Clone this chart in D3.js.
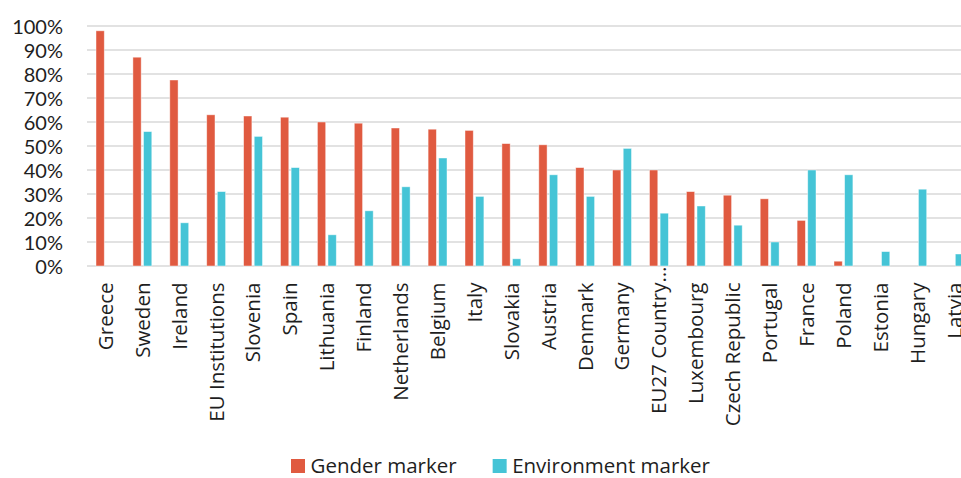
<!DOCTYPE html>
<html>
<head>
<meta charset="utf-8">
<script src="https://cdn.jsdelivr.net/npm/d3@7"></script>
<style>
  html, body { margin: 0; padding: 0; background: #fff; }
  svg { display: block; }
  text { fill: #1e1e1e; }
</style>
</head>
<body>
<svg id="chart" width="961" height="478"></svg>
<script>
// Share of funding carrying each policy marker, by donor
const categories = [
  "Greece", "Sweden", "Ireland", "EU Institutions", "Slovenia", "Spain",
  "Lithuania", "Finland", "Netherlands", "Belgium", "Italy", "Slovakia",
  "Austria", "Denmark", "Germany", "EU27 Country…", "Luxembourg",
  "Czech Republic", "Portugal", "France", "Poland", "Estonia", "Hungary", "Latvia"
];
const genderMarker = [
  98, 87, 77.5, 63, 62.5, 62, 60, 59.5, 57.5, 57, 56.5, 51,
  50.5, 41, 40, 40, 31, 29.5, 28, 19, 2, 0, 0, 0
];
const environmentMarker = [
  0, 56, 18, 31, 54, 41, 13, 23, 33, 45, 29, 3,
  38, 29, 49, 22, 25, 17, 10, 40, 38, 6, 32, 5
];
const seriesNames = ["Gender marker", "Environment marker"];
const seriesColors = ["#e05a40", "#45c4d6"];
const yTicks = [0, 10, 20, 30, 40, 50, 60, 70, 80, 90, 100];

const LABEL_FONT = "'Open Sans', sans-serif";
const LABEL_SIZE = 20.5;
const rows = categories.map((c, i) => ({
  category: c,
  values: [genderMarker[i], environmentMarker[i]]
}));

const svg = d3.select("#chart");
const plotLeft = 87, plotRight = 972.6, plotTop = 26, plotBottom = 266;

const x0 = d3.scaleBand()
  .domain(categories)
  .range([plotLeft, plotRight])
  .paddingInner(0.488)
  .paddingOuter(0.244);

const x1 = d3.scaleBand()
  .domain(d3.range(seriesNames.length))
  .range([0, x0.bandwidth()])
  .paddingInner(0.22);

const y = d3.scaleLinear().domain([0, 100]).range([plotBottom, plotTop]);

// Horizontal gridlines
svg.append("g")
  .selectAll("line")
  .data(yTicks)
  .join("line")
  .attr("x1", plotLeft)
  .attr("x2", 961)
  .attr("y1", d => y(d))
  .attr("y2", d => y(d))
  .attr("stroke", "#d9d9d9")
  .attr("stroke-width", 1.6);

// Y axis labels (compact face keeps the stacked labels clear of each other)
const yAxis = d3.axisLeft(y)
  .tickValues(yTicks)
  .tickFormat(d => d + "%")
  .tickSize(0)
  .tickPadding(0);
const yg = svg.append("g")
  .attr("transform", `translate(63,0)`)
  .call(yAxis);
yg.select(".domain").remove();
yg.selectAll("text")
  .style("font-family", "Lato, 'Open Sans', sans-serif")
  .style("font-size", "20px")
  .attr("fill", "#1e1e1e")
  .attr("dy", "0.36em");

// Bars
const groups = svg.append("g")
  .selectAll("g")
  .data(rows)
  .join("g")
  .attr("transform", d => `translate(${x0(d.category)},0)`);

groups.selectAll("rect")
  .data(d => d.values.map((v, k) => ({ v, k })).filter(e => e.v > 0))
  .join("rect")
  .attr("x", e => x1(e.k))
  .attr("width", x1.bandwidth())
  .attr("y", e => y(e.v))
  .attr("height", e => y(0) - y(e.v))
  .attr("fill", e => seriesColors[e.k])
  .attr("stroke", "rgba(255,255,255,0.55)")
  .attr("stroke-width", 0.8);

// Rotated category labels
const xAxis = d3.axisBottom(x0).tickSize(0).tickPadding(0);
const xg = svg.append("g")
  .attr("transform", `translate(0,${plotBottom})`)
  .call(xAxis);
xg.select(".domain").remove();
xg.selectAll(".tick text").remove();
xg.selectAll(".tick").each(function(d) {
  const tick = d3.select(this);
  const truncated = d.endsWith("…");
  const main = truncated ? d.slice(0, -1) : d;
  tick.append("text")
    .attr("transform", "rotate(-90)")
    .attr("x", -16.5)
    .attr("dy", "0.36em")
    .attr("text-anchor", "end")
    .style("font-family", LABEL_FONT)
    .style("font-size", LABEL_SIZE + "px")
    .attr("fill", "#1e1e1e")
    .text(main);
  if (truncated) {
    tick.append("text")
      .attr("transform", "rotate(-90)")
      .attr("x", -16.5)
      .attr("dy", "0.36em")
      .attr("text-anchor", "start")
      .style("font-family", LABEL_FONT)
      .style("font-size", LABEL_SIZE + "px")
      .attr("fill", "#1e1e1e")
      .text("…");
  }
});

// Legend
const legend = svg.append("g").attr("transform", "translate(291,459)");
let lx = 0;
seriesNames.forEach((name, k) => {
  const item = legend.append("g").attr("transform", `translate(${lx},0)`);
  item.append("rect")
    .attr("width", 14).attr("height", 14)
    .attr("fill", seriesColors[k]);
  const t = item.append("text")
    .attr("x", 19.5)
    .attr("y", 13.5)
    .style("font-family", LABEL_FONT)
    .style("font-size", LABEL_SIZE + "px")
    .text(name);
  lx += 19.5 + t.node().getComputedTextLength() + 36;
});
</script>
</body>
</html>
